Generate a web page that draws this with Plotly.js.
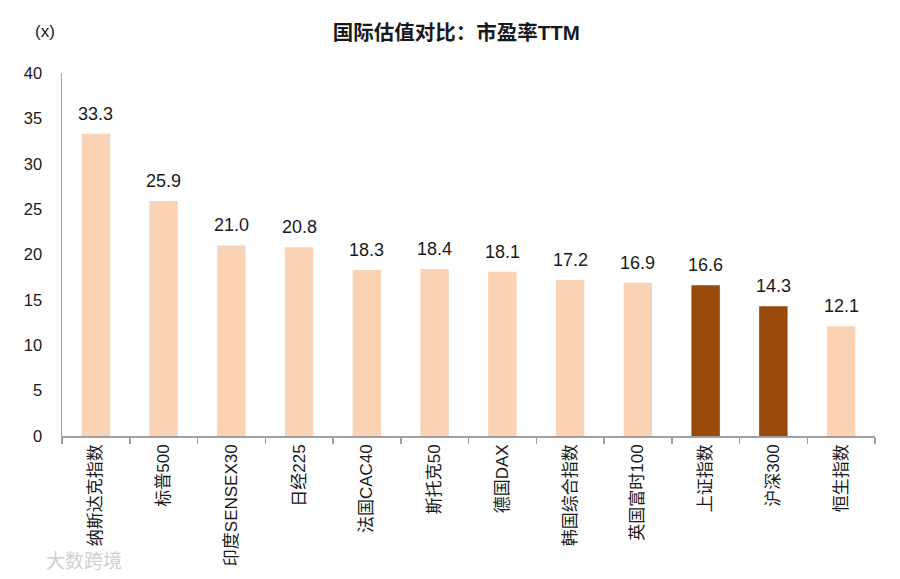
<!DOCTYPE html>
<html>
<head>
<meta charset="utf-8">
<script src="https://cdn.plot.ly/plotly-3.0.1.min.js"></script>
<style>
  html, body { margin: 0; padding: 0; background: #fff; }
  #chart { width: 900px; height: 579px; }
</style>
</head>
<body>
<div id="chart"></div>
<script>
// 国际估值对比：市盈率TTM
const indexNames = ['纳斯达克指数', '标普500', '印度SENSEX30', '日经225', '法国CAC40', '斯托克50',
                    '德国DAX', '韩国综合指数', '英国富时100', '上证指数', '沪深300', '恒生指数'];
const peTTM = [33.3, 25.9, 21.0, 20.8, 18.3, 18.4, 18.1, 17.2, 16.9, 16.6, 14.3, 12.1];
const isDomestic = [false, false, false, false, false, false, false, false, false, true, true, false];

const yTicks = [0, 5, 10, 15, 20, 25, 30, 35, 40];

const LIGHT = '#F9D3B4';
const DARK = '#984A0D';
const FONT = 'Liberation Sans, Arial, "Noto Sans CJK SC", sans-serif';

const data = [{
    type: 'bar',
    x: indexNames,
    y: peTTM,
    marker: { color: isDomestic.map(d => d ? DARK : LIGHT), line: { width: 0 } },
    hoverinfo: 'x+y'
}];

// value labels above the bars, placed on the data scale and nudged up a bit
const valueLabels = indexNames.map((name, i) => ({
    x: name, y: peTTM[i], xref: 'x', yref: 'y',
    text: peTTM[i].toFixed(1),
    xanchor: 'center', yanchor: 'bottom', yshift: 8,
    showarrow: false,
    font: { family: FONT, size: 18, color: '#1a1a1a' }
}));

const layout = {
    width: 900,
    height: 579,
    margin: { l: 62, r: 25, t: 73, b: 143 },
    paper_bgcolor: '#fff',
    plot_bgcolor: '#fff',
    bargap: 0.58,
    showlegend: false,
    font: { family: FONT, color: '#1a1a1a' },
    title: {
        text: '<b>国际估值对比：市盈率TTM</b>',
        x: 0.485, xref: 'paper', xanchor: 'center',
        y: 0.943, yref: 'container', yanchor: 'middle',
        font: { family: FONT, size: 20.5, color: '#1a1a1a' }
    },
    xaxis: {
        type: 'category',
        showline: true, linecolor: '#a0a0a0', linewidth: 1.5,
        ticks: 'outside', ticklen: 6, tickcolor: '#a0a0a0', tickwidth: 1.5,
        tickson: 'boundaries',
        tickangle: -90,
        tickfont: { family: FONT, size: 17, color: '#1a1a1a' },
        showgrid: false, zeroline: false
    },
    yaxis: {
        range: [0, 40],
        tickvals: yTicks,
        ticktext: yTicks.map(String),
        showline: true, linecolor: '#a0a0a0', linewidth: 1.5,
        ticks: '', ticklabelstandoff: 15,
        tickfont: { family: FONT, size: 16.5, color: '#1a1a1a' },
        showgrid: false, zeroline: false
    },
    annotations: valueLabels.concat([
        { text: '(x)', xref: 'paper', yref: 'paper', x: -0.021, y: 1.115,
          xanchor: 'center', yanchor: 'middle', showarrow: false,
          font: { family: FONT, size: 17, color: '#1a1a1a' } },
        { text: '大数跨境', xref: 'paper', yref: 'paper', x: -0.022, y: -0.345,
          xanchor: 'left', yanchor: 'middle', showarrow: false,
          font: { family: FONT, size: 19, color: '#d0d0d0' } }
    ])
};

Plotly.newPlot('chart', data, layout, { displayModeBar: false, staticPlot: true });
</script>
</body>
</html>
